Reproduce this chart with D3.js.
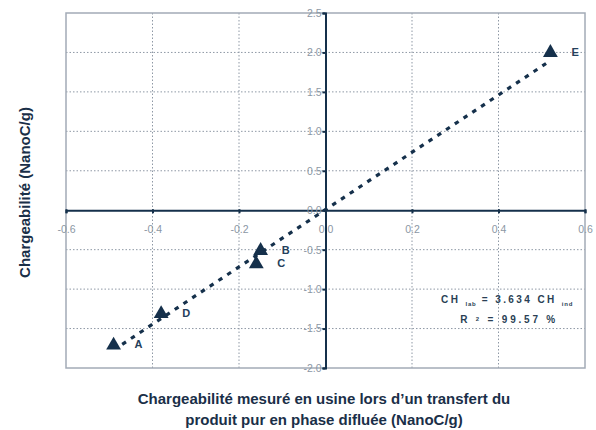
<!DOCTYPE html>
<html>
<head>
<meta charset="utf-8">
<script src="https://cdn.jsdelivr.net/npm/d3@7"></script>
<style>
  body { margin: 0; background: #fff; }
  svg { font-family: "Liberation Sans", Arial, sans-serif; }
</style>
</head>
<body>
<div id="chart"></div>
<script>
// data
const pointNames = ['A', 'B', 'C', 'D', 'E'];
const xValues = [-0.49, -0.15, -0.16, -0.38, 0.52];   // usine (NanoC/g)
const yValues = [-1.70, -0.50, -0.67, -1.30, 2.01];   // labo (NanoC/g)
const trendX = [-0.47, 0.51];
const trendY = [-1.70, 1.86];
const xTicks = [-0.6, -0.4, -0.2, 0.0, 0.2, 0.4, 0.6];
const yTicks = [-2.0, -1.5, -1.0, -0.5, 0.0, 0.5, 1.0, 1.5, 2.0, 2.5];

const W = 596, H = 430;
const margin = {top: 13, right: 11, bottom: 62, left: 66};
const dark = '#15304b';
const gray = '#8b97a4';

const svg = d3.select('#chart').append('svg')
    .attr('width', W)
    .attr('height', H);

const x = d3.scaleLinear().domain([-0.6, 0.6]).range([margin.left, W - margin.right]);
const y = d3.scaleLinear().domain([-2.0, 2.5]).range([H - margin.bottom, margin.top]);

// dotted grid
svg.append('g').selectAll('line')
    .data(xTicks.slice(1, -1).filter(d => d !== 0))
    .enter().append('line')
    .attr('x1', d => x(d)).attr('x2', d => x(d))
    .attr('y1', y(2.5)).attr('y2', y(-2.0))
    .attr('stroke', '#8e98a5').attr('stroke-width', 1)
    .attr('stroke-dasharray', '1.5,2');

svg.append('g').selectAll('line')
    .data(yTicks.slice(1, -1).filter(d => d !== 0))
    .enter().append('line')
    .attr('x1', x(-0.6)).attr('x2', x(0.6))
    .attr('y1', d => y(d)).attr('y2', d => y(d))
    .attr('stroke', '#8e98a5').attr('stroke-width', 1)
    .attr('stroke-dasharray', '1.5,2');

// plot frame
svg.append('rect')
    .attr('x', x(-0.6)).attr('y', y(2.5))
    .attr('width', x(0.6) - x(-0.6))
    .attr('height', y(-2.0) - y(2.5))
    .attr('fill', 'none')
    .attr('stroke', '#a3abb6').attr('stroke-width', 1.5);

// axes through zero
const xAxis = svg.append('g')
    .attr('transform', `translate(0,${y(0)})`)
    .call(d3.axisBottom(x).tickValues(xTicks).tickSize(3).tickFormat(d3.format('.1f')));
xAxis.select('.domain').attr('stroke', dark).attr('stroke-width', 2);
xAxis.selectAll('.tick line').attr('stroke', dark).attr('stroke-width', 2).attr('y1', -1);
xAxis.selectAll('.tick text')
    .attr('y', 15)
    .attr('fill', gray)
    .attr('font-size', 10.5)
    .text(d => d3.format('.1f')(d).replace('−', '-'));

const yAxis = svg.append('g')
    .attr('transform', `translate(${x(0)},0)`)
    .call(d3.axisLeft(y).tickValues(yTicks).tickSize(3).tickFormat(d3.format('.1f')));
yAxis.select('.domain').attr('stroke', dark).attr('stroke-width', 2);
yAxis.selectAll('.tick line').attr('stroke', dark).attr('stroke-width', 2);
yAxis.selectAll('.tick text')
    .attr('x', -4)
    .attr('fill', gray)
    .attr('font-size', 10.5)
    .text(d => d3.format('.1f')(d).replace('−', '-'));

// trend line
const line = d3.line().x(d => x(d[0])).y(d => y(d[1]));
svg.append('path')
    .attr('d', line(d3.zip(trendX, trendY)))
    .attr('fill', 'none')
    .attr('stroke', dark)
    .attr('stroke-width', 3.2)
    .attr('stroke-dasharray', '4.5,6');

// points
const pts = pointNames.map((n, i) => ({name: n, x: xValues[i], y: yValues[i]}));
const tri = d3.symbol().type(d3.symbolTriangle).size(95);

svg.append('g').selectAll('path')
    .data(pts)
    .enter().append('path')
    .attr('d', tri)
    .attr('transform', d => `translate(${x(d.x)},${y(d.y) + 1})`)
    .attr('fill', dark);

svg.append('g').selectAll('text')
    .data(pts)
    .enter().append('text')
    .attr('x', d => x(d.x) + 21)
    .attr('y', d => y(d.y) + 4)
    .attr('font-size', 11)
    .attr('font-weight', 'bold')
    .attr('fill', '#24405b')
    .text(d => d.name);

// equation
const eqX = x(0.42);
const eq = svg.append('text')
    .attr('x', eqX)
    .attr('y', y(-1.18))
    .attr('text-anchor', 'middle')
    .attr('font-size', 10)
    .attr('font-weight', 'bold')
    .attr('fill', '#2a3f55')
    .attr('letter-spacing', 2.4);
eq.append('tspan').text('CH ');
eq.append('tspan').attr('font-size', 6).attr('dy', 3).attr('letter-spacing', 0.8).text('lab');
eq.append('tspan').attr('dy', -3).text(' = 3.634 CH ');
eq.append('tspan').attr('font-size', 6).attr('dy', 3).attr('letter-spacing', 0.8).text('ind');

const r2 = svg.append('text')
    .attr('x', eqX + 2)
    .attr('y', y(-1.43))
    .attr('text-anchor', 'middle')
    .attr('font-size', 10)
    .attr('font-weight', 'bold')
    .attr('fill', '#2a3f55')
    .attr('letter-spacing', 2.8);
r2.append('tspan').text('R ');
r2.append('tspan').attr('font-size', 6).attr('dy', -2).text('2');
r2.append('tspan').attr('dy', 2).text(' = 99.57 %');

// axis titles
svg.append('text')
    .attr('transform', `translate(30,${(y(2.5) + y(-2.0)) / 2 + 2}) rotate(-90)`)
    .attr('text-anchor', 'middle')
    .attr('font-size', 15)
    .attr('font-weight', 'bold')
    .attr('fill', '#1a2f48')
    .text('Chargeabilité (NanoC/g)');

svg.append('text')
    .attr('x', 324)
    .attr('y', 404)
    .attr('text-anchor', 'middle')
    .attr('font-size', 15)
    .attr('font-weight', 'bold')
    .attr('fill', '#1a2f48')
    .text('Chargeabilité mesuré en usine lors d’un transfert du');

svg.append('text')
    .attr('x', 324)
    .attr('y', 425)
    .attr('text-anchor', 'middle')
    .attr('font-size', 15)
    .attr('font-weight', 'bold')
    .attr('fill', '#1a2f48')
    .text('produit pur en phase difluée (NanoC/g)');
</script>
</body>
</html>
